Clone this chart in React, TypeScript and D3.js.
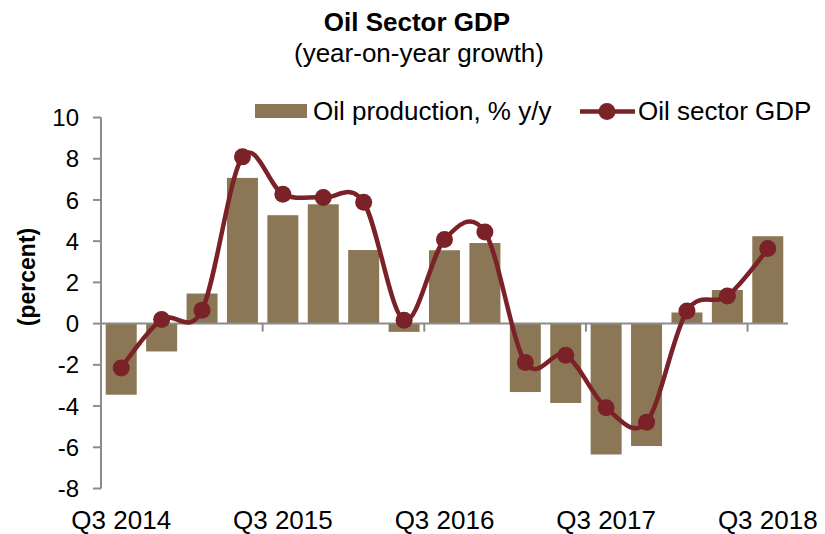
import React, { useEffect, useRef } from "react";
import * as d3 from "d3";

const quarters = [
  "Q3 2014", "Q4 2014", "Q1 2015", "Q2 2015",
  "Q3 2015", "Q4 2015", "Q1 2016", "Q2 2016",
  "Q3 2016", "Q4 2016", "Q1 2017", "Q2 2017",
  "Q3 2017", "Q4 2017", "Q1 2018", "Q2 2018",
  "Q3 2018",
];
const oilProduction = [
  -3.45, -1.35, 1.46, 7.07, 5.26, 5.79, 3.57, -0.4,
  3.56, 3.91, -3.32, -3.85, -6.35, -5.94, 0.54, 1.63, 4.24,
];
const oilSectorGdp = [
  -2.15, 0.2, 0.65, 8.09, 6.28, 6.12, 5.89, 0.16,
  4.08, 4.45, -1.89, -1.54, -4.08, -4.78, 0.61, 1.34, 3.64,
];
const yTicks = [10, 8, 6, 4, 2, 0, -2, -4, -6, -8];

const BAR = "#8b7755";
const LINE = "#7b2128";
const AXIS = "#8c8c8c";
const FONT = "'Liberation Sans', Arial, sans-serif";

const App = () => {
  const svgRef = useRef(null);

  useEffect(() => {
    const svg = d3.select(svgRef.current);
    svg.selectAll("*").remove();

    const x = d3.scaleBand().domain(quarters).range([101, 788])
      .paddingInner(0.233).paddingOuter(0.117);
    const y = d3.scaleLinear().domain([-8, 10]).range([488.5, 117.5]);
    const cx = d => x(d) + x.bandwidth() / 2;

    // title
    svg.append("text").attr("x", 417).attr("y", 31).attr("text-anchor", "middle")
      .style("font", `bold 26px ${FONT}`).text("Oil Sector GDP");
    svg.append("text").attr("x", 419).attr("y", 62).attr("text-anchor", "middle")
      .style("font", `26px ${FONT}`).text("(year-on-year growth)");

    // bars
    svg.append("g").selectAll("rect")
      .data(oilProduction)
      .join("rect")
      .attr("x", (d, i) => x(quarters[i]))
      .attr("width", x.bandwidth())
      .attr("y", d => y(Math.max(0, d)))
      .attr("height", d => Math.abs(y(d) - y(0)))
      .attr("fill", BAR);

    // y axis
    const ya = svg.append("g");
    ya.append("line").attr("x1", 101).attr("x2", 101)
      .attr("y1", y(10)).attr("y2", y(-8))
      .attr("stroke", AXIS).attr("stroke-width", 2);
    ya.selectAll("line.t").data(yTicks).join("line").attr("class", "t")
      .attr("x1", 93).attr("x2", 101)
      .attr("y1", d => y(d)).attr("y2", d => y(d))
      .attr("stroke", AXIS).attr("stroke-width", 2);
    ya.selectAll("text").data(yTicks).join("text")
      .attr("x", 79).attr("y", d => y(d)).attr("dy", "0.36em")
      .attr("text-anchor", "end")
      .style("font", `24px ${FONT}`)
      .text(d => d);

    svg.append("text")
      .attr("transform", "translate(27,277) rotate(-90)")
      .attr("text-anchor", "middle").attr("dy", "0.35em")
      .style("font", `bold 23px ${FONT}`).text("(percent)");

    // x axis
    const xa = svg.append("g");
    xa.append("line").attr("x1", 101).attr("x2", 788)
      .attr("y1", y(0)).attr("y2", y(0))
      .attr("stroke", AXIS).attr("stroke-width", 2);
    const labelled = quarters.filter((q, i) => i % 4 === 0);
    xa.selectAll("line.t").data(labelled.slice(1)).join("line").attr("class", "t")
      .attr("x1", d => x(d) - x.step() * x.paddingInner() / 2)
      .attr("x2", d => x(d) - x.step() * x.paddingInner() / 2)
      .attr("y1", y(0)).attr("y2", y(0) + 8)
      .attr("stroke", AXIS).attr("stroke-width", 2);
    xa.selectAll("text").data(labelled).join("text")
      .attr("x", d => cx(d)).attr("y", 529)
      .attr("text-anchor", "middle")
      .style("font", `26px ${FONT}`)
      .text(d => d);

    // line
    const line = d3.line()
      .x((d, i) => cx(quarters[i]))
      .y(d => y(d))
      .curve(d3.curveCardinal.tension(0));
    svg.append("path").datum(oilSectorGdp)
      .attr("d", line).attr("fill", "none")
      .attr("stroke", LINE).attr("stroke-width", 4.5);
    svg.append("g").selectAll("circle")
      .data(oilSectorGdp).join("circle")
      .attr("cx", (d, i) => cx(quarters[i])).attr("cy", d => y(d))
      .attr("r", 8.5).attr("fill", LINE);

    // legend
    const lg = svg.append("g");
    lg.append("rect").attr("x", 255).attr("y", 104).attr("width", 52).attr("height", 14)
      .attr("fill", BAR);
    lg.append("text").attr("x", 313).attr("y", 120)
      .style("font", `26px ${FONT}`).text("Oil production, % y/y");
    lg.append("line").attr("x1", 580).attr("x2", 635).attr("y1", 111.5).attr("y2", 111.5)
      .attr("stroke", LINE).attr("stroke-width", 4.5);
    lg.append("circle").attr("cx", 607).attr("cy", 111.5).attr("r", 8.5).attr("fill", LINE);
    lg.append("text").attr("x", 638).attr("y", 120)
      .style("font", `26px ${FONT}`).text("Oil sector GDP");
  }, []);

  return (
    <svg ref={svgRef} width={825} height={534}
      style={{ position: "absolute", left: 0, top: 0, background: "#fff" }} />
  );
};

export default App;
